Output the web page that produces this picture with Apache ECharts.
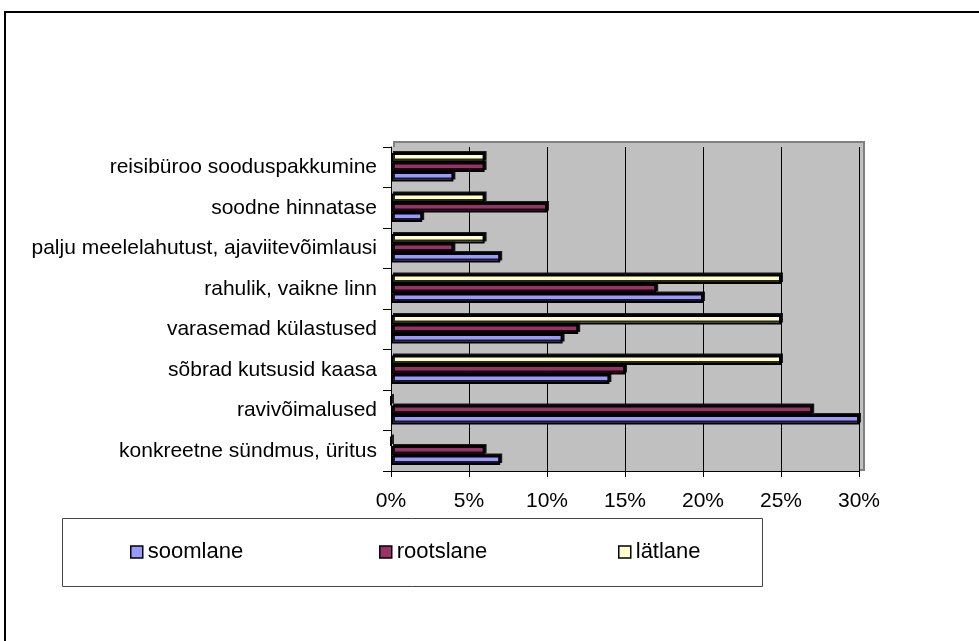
<!DOCTYPE html>
<html>
<head>
<meta charset="utf-8">
<script src="https://cdn.jsdelivr.net/npm/echarts@6/dist/echarts.min.js"></script>
<style>
  html, body { margin: 0; padding: 0; background: #fff; }
  #chart { width: 979px; height: 641px; }
</style>
</head>
<body>
<div id="chart"></div>
<script>
// categories, bottom to top as in the picture
const categories = [
  'konkreetne sündmus, üritus',
  'ravivõimalused',
  'sõbrad kutsusid kaasa',
  'varasemad külastused',
  'rahulik, vaikne linn',
  'palju meelelahutust, ajaviitevõimlausi',
  'soodne hinnatase',
  'reisibüroo sooduspakkumine'
]
const soomlane = [7, 30, 14, 11, 20, 7, 2, 4]
const rootslane = [6, 27, 15, 12, 17, 4, 10, 6]
const latlane = [0, 0, 25, 25, 25, 6, 6, 6]
const xTicks = [0, 5, 10, 15, 20, 25, 30]

const chart = echarts.init(document.getElementById('chart'))

const font = 'Liberation Sans, Arial, sans-serif'
const barStyle = (color) => ({
  color: color,
  borderColor: '#000',
  borderWidth: 2,
  shadowColor: 'rgba(0,0,0,0.85)',
  shadowBlur: 0,
  shadowOffsetX: 2,
  shadowOffsetY: -2
})

const legendBase = {
  icon: 'rect',
  itemWidth: 12,
  itemHeight: 12,
  itemGap: 5,
  itemStyle: { borderColor: '#000', borderWidth: 1.5, shadowBlur: 0, shadowOffsetX: 0, shadowOffsetY: 0 },
  textStyle: { fontSize: 22, color: '#000', fontFamily: font }
}

const option = {
  animation: false,
  backgroundColor: '#fff',
  textStyle: { fontFamily: font },
  graphic: [
    {
      type: 'rect',
      shape: { x: 5, y: 12, width: 1000, height: 700 },
      style: { fill: 'none', stroke: '#000', lineWidth: 2 },
      silent: true
    },
    {
      type: 'rect',
      shape: { x: 62.5, y: 518.5, width: 700, height: 68 },
      style: { fill: '#fff', stroke: '#444', lineWidth: 1 },
      silent: true,
      z: -1
    },
    {
      // back wall of the plot, slightly shifted like the 3D original
      type: 'rect',
      shape: { x: 394, y: 142, width: 470, height: 328 },
      style: { fill: '#c0c0c0', stroke: '#808080', lineWidth: 2 },
      silent: true,
      z: -2
    }
  ],
  legend: [
    Object.assign({ data: ['soomlane'], left: 125, top: 536 }, legendBase),
    Object.assign({ data: ['rootslane'], left: 374, top: 536 }, legendBase),
    Object.assign({ data: ['lätlane'], left: 613, top: 536 }, legendBase)
  ],
  grid: {
    left: 391,
    right: 120,
    top: 147,
    bottom: 170,
    show: true,
    backgroundColor: '#c0c0c0',
    borderColor: '#a0a0a0',
    borderWidth: 0
  },
  xAxis: {
    type: 'value',
    min: 0,
    max: 30,
    interval: 5,
    axisLine: { show: true, lineStyle: { color: '#000', width: 1 } },
    axisTick: { show: true, length: 6, lineStyle: { color: '#000' } },
    axisLabel: {
      color: '#000',
      fontSize: 21,
      margin: 20,
      fontFamily: font,
      formatter: (v) => xTicks.includes(v) ? v + '%' : ''
    },
    splitLine: { show: true, lineStyle: { color: '#000', width: 1 } }
  },
  yAxis: {
    type: 'category',
    data: categories,
    axisLine: { show: true, lineStyle: { color: '#000', width: 1 } },
    axisTick: { show: true, length: 8, lineStyle: { color: '#000' } },
    axisLabel: { color: '#000', fontSize: 21, margin: 14, fontFamily: font }
  },
  // drawn bottom to top within each category: soomlane lowest
  series: [
    { name: 'lätlane', type: 'bar', data: latlane, barWidth: 9.5, barGap: '0%', itemStyle: barStyle('#ffffcc') },
    { name: 'rootslane', type: 'bar', data: rootslane, barWidth: 9.5, barGap: '0%', itemStyle: barStyle('#993366') },
    { name: 'soomlane', type: 'bar', data: soomlane, barWidth: 9.5, barGap: '0%', itemStyle: barStyle('#9999ff') }
  ]
}

chart.setOption(option)
</script>
</body>
</html>
